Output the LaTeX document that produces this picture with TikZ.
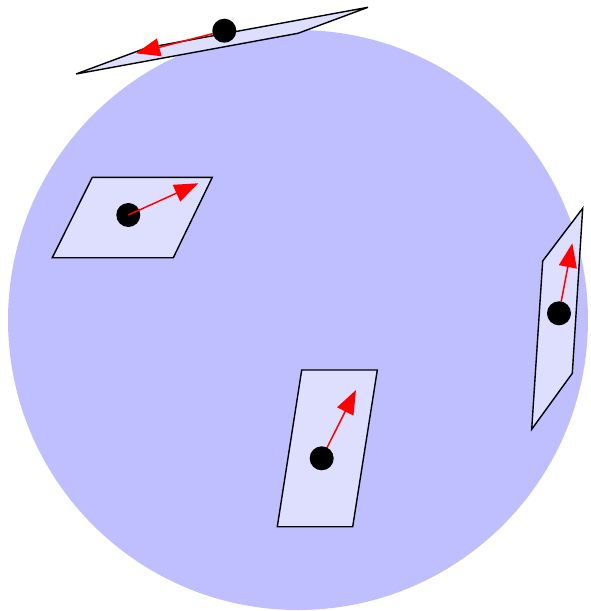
\documentclass[tikz,border=0pt]{standalone}
\usetikzlibrary{arrows.meta}
\begin{document}
\begin{tikzpicture}[x=1pt,y=-1pt,
  sphere/.style={fill=blue!25,draw=none},
  plane/.style={fill=blue!13,draw=black,line width=1.4pt,line join=miter},
  dot/.style={circle,fill=black,inner sep=0pt,minimum size=24pt},
  vec/.style={draw=red,line width=1.5pt,-{Triangle[length=24pt,width=18pt]}}]
\useasboundingbox (0,0) rectangle (590,611);
\fill[sphere] (298,320) circle (290);
% left plane
\filldraw[plane] (92.3,177.3) -- (212.3,177.3) -- (173.3,257.7) -- (52.3,257.7) -- cycle;
\node[dot] (p1) at (128.3,215) {};
\coordinate (t1) at (198.3,183.3);
\draw[vec] (p1.center) -- (t1);
% right plane
\filldraw[plane] (582.7,208.3) -- (542.7,261) -- (531.7,429.3) -- (572.3,373.3) -- cycle;
\coordinate (t2) at (572.3,243.3);
\draw[vec] (559,313.3) coordinate (c2) -- (t2);
\node[dot] (p2) at (c2) {};
% bottom plane
\filldraw[plane] (301.7,370) -- (377.3,370) -- (352.7,526.7) -- (277.3,526.7) -- cycle;
\coordinate (t3) at (356,390);
\draw[vec] (321.7,458.3) coordinate (c3) -- (t3);
\node[dot] (p3) at (c3) {};
% top plane
\filldraw[plane] (76,74) -- (146,48) -- (368,7.3) -- (298,33.3) -- cycle;
\coordinate (t4) at (136,53.3);
\draw[vec] (224.3,30.7) coordinate (c4) -- (t4);
\node[dot] (p4) at (c4) {};
\end{tikzpicture}
\end{document}
